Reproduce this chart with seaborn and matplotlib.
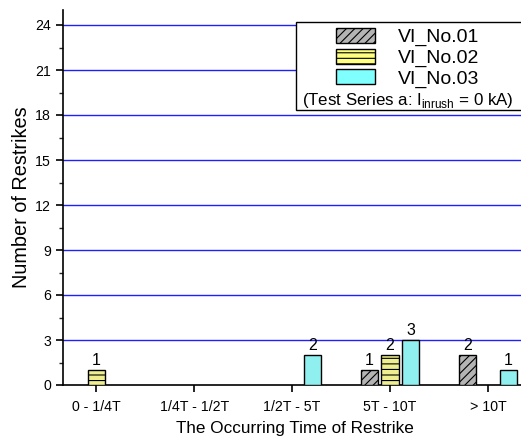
import matplotlib
matplotlib.use("Agg")
import matplotlib.pyplot as plt
import seaborn as sns
import pandas as pd
from matplotlib.patches import Patch, Rectangle
from matplotlib.ticker import MultipleLocator

categories = ["0 - 1/4T", "1/4T - 1/2T", "1/2T - 5T", "5T - 10T", "> 10T"]
series_names = ["VI_No.01", "VI_No.02", "VI_No.03"]
vi01 = [0, 0, 0, 1, 2]
vi02 = [1, 0, 0, 2, 0]
vi03 = [0, 0, 2, 3, 1]

colors = ["#b4b4b4", "#ffff80", "#80ffff"]
hatches = ["////", "---", ""]

rows = []
for name, vals in zip(series_names, [vi01, vi02, vi03]):
    for c, v in zip(categories, vals):
        rows.append({"cat": c, "series": name, "count": v})
df = pd.DataFrame(rows)

sns.set_style("white")
plt.rcParams["font.family"] = ["Liberation Sans", "DejaVu Sans"]
plt.rcParams["text.color"] = "black"
plt.rcParams["axes.labelcolor"] = "black"
plt.rcParams["hatch.linewidth"] = 0.8
plt.rcParams["hatch.color"] = "#333333"

fig = plt.figure(figsize=(5.21, 4.37), dpi=100)
ax = fig.add_axes([63 / 521, 1 - 385 / 437, 1 - 63 / 521 + 0.01, 375 / 437])

sns.barplot(data=df, x="cat", y="count", hue="series", order=categories,
            hue_order=series_names, palette=colors, width=0.63, gap=0.15,
            edgecolor="black", linewidth=1.0, legend=False, ax=ax, zorder=3)

for i, cont in enumerate(ax.containers):
    for bar, v in zip(cont, [vi01, vi02, vi03][i]):
        bar.set_hatch(hatches[i])
        if v > 0:
            ax.text(bar.get_x() + bar.get_width() / 2, v + 0.12, str(v),
                    ha="center", va="bottom", fontsize=11.5, color="black", zorder=4)
        else:
            bar.set_visible(False)

ax.set_ylim(0, 25)
ax.set_xlim(-0.34, 4.34 + 0.05)
ax.yaxis.set_major_locator(MultipleLocator(3))
ax.yaxis.set_minor_locator(MultipleLocator(1.5))
for y in range(3, 25, 3):
    ax.axhline(y, color="#2020ff", linewidth=1.0, zorder=1)

for s in ["top", "right"]:
    ax.spines[s].set_visible(False)
for s in ["left", "bottom"]:
    ax.spines[s].set_color("black")
    ax.spines[s].set_linewidth(1.2)

ax.tick_params(axis="both", which="major", direction="out", length=5, width=1.2,
               labelsize=10.2, colors="black", left=True, bottom=True)
ax.tick_params(axis="x", which="major", pad=6)
ax.tick_params(axis="y", which="minor", direction="out", length=3, width=1.0, left=True)
ax.set_xlabel("The Occurring Time of Restrike", fontsize=12.3, labelpad=5)
ax.set_ylabel("Number of Restrikes", fontsize=14.3, labelpad=3)

# legend box
box = Rectangle((296 / 521, 1 - 110 / 437), 0.5, 88 / 437, transform=fig.transFigure,
                facecolor="white", edgecolor="black", linewidth=1.0, zorder=5)
fig.patches.append(box)
handles = [Patch(facecolor=colors[i], edgecolor="black", hatch=hatches[i], label=series_names[i])
           for i in range(3)]
leg = fig.legend(handles=handles, loc="upper left", bbox_to_anchor=(336 / 521, 1 - 28 / 437),
                 frameon=False, fontsize=14, handlelength=2.0, handleheight=0.8,
                 handletextpad=1.2, labelspacing=0.12, borderpad=0, borderaxespad=0)
leg.set_zorder(6)
for t in leg.get_texts():
    t.set_color("black")
fig.text(408 / 521, 1 - 100 / 437, r"(Test Series a: I$_{\mathregular{inrush}}$ = 0 kA)",
         ha="center", va="center", fontsize=12.2, color="black", zorder=7)

fig.savefig("out.png", dpi=100)
